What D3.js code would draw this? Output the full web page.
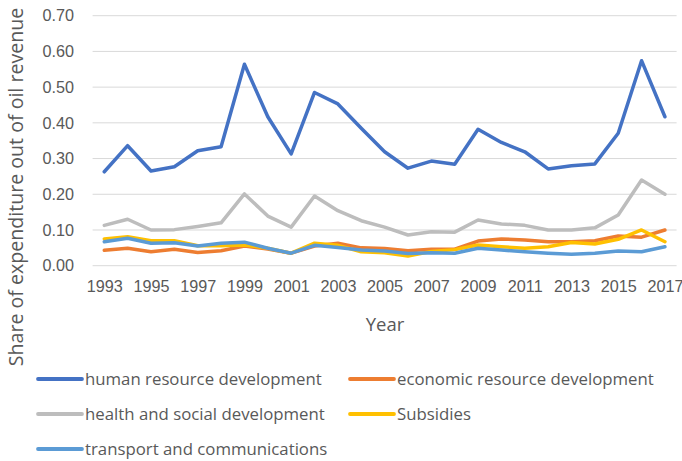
<!DOCTYPE html>
<html>
<head>
<meta charset="utf-8">
<script src="https://cdn.jsdelivr.net/npm/d3@7"></script>
<style>
  html, body { margin: 0; padding: 0; background: #fff; }
  svg { display: block; }
  text { font-family: "Open Sans", "Liberation Sans", sans-serif; fill: #595959; }
</style>
</head>
<body>
<svg id="chart" width="682" height="461"></svg>
<script>
// Years on the category axis
const years = ["1993","1994","1995","1996","1997","1998","1999","2000","2001","2002","2003","2004","2005",
               "2006","2007","2008","2009","2010","2011","2012","2013","2014","2015","2016","2017"];

// Share of expenditure out of oil revenue, by spending area
const humanResource = [0.263,0.336,0.265,0.277,0.322,0.333,0.564,0.417,0.313,0.485,0.453,0.385,0.319,
                       0.273,0.293,0.284,0.382,0.345,0.319,0.271,0.280,0.285,0.371,0.574,0.417];
const economicResource = [0.043,0.049,0.039,0.046,0.037,0.042,0.055,0.047,0.035,0.055,0.063,0.050,0.048,
                          0.042,0.046,0.046,0.069,0.075,0.072,0.067,0.067,0.070,0.083,0.080,0.100];
const healthSocial = [0.113,0.130,0.100,0.101,0.110,0.120,0.201,0.139,0.108,0.195,0.154,0.126,0.108,
                      0.086,0.095,0.094,0.128,0.117,0.113,0.100,0.100,0.106,0.142,0.240,0.200];
const subsidies = [0.075,0.081,0.070,0.070,0.056,0.056,0.058,0.049,0.035,0.063,0.057,0.039,0.036,
                   0.027,0.040,0.045,0.058,0.053,0.049,0.053,0.065,0.061,0.074,0.100,0.067];
const transport = [0.067,0.077,0.063,0.064,0.055,0.063,0.066,0.049,0.035,0.057,0.051,0.044,0.041,
                   0.034,0.036,0.035,0.049,0.044,0.039,0.035,0.032,0.035,0.041,0.039,0.053];

const seriesNames = ["human resource development","economic resource development",
                     "health and social development","Subsidies","transport and communications"];
const seriesValues = [humanResource, economicResource, healthSocial, subsidies, transport];
const seriesColors = ["#4472C4","#ED7D31","#BDBDBD","#FFC000","#5B9BD5"];

const yTicks = [0,0.1,0.2,0.3,0.4,0.5,0.6,0.7];

const svg = d3.select("#chart");
const plot = { left: 92.6, right: 676.6, top: 15.7, bottom: 265.7 };

const x = d3.scalePoint().domain(years).range([plot.left, plot.right]).padding(0.5);
const y = d3.scaleLinear().domain([0, 0.7]).range([plot.bottom, plot.top]);

// Horizontal gridlines
svg.append("g")
  .selectAll("line").data(yTicks).join("line")
  .attr("x1", plot.left).attr("x2", plot.right)
  .attr("y1", d => y(d)).attr("y2", d => y(d))
  .attr("stroke", "#D9D9D9").attr("stroke-width", 1);

// Y axis labels
const yAxis = d3.axisLeft(y).tickValues(yTicks).tickFormat(d3.format(".2f")).tickSize(0).tickPadding(0);
const yg = svg.append("g").attr("transform", `translate(74,0)`).call(yAxis);
yg.select(".domain").remove();
yg.selectAll("text").attr("font-size", 16.2).style("font-family", "inherit").attr("fill", "#595959");

// X axis labels, every other year
const xAxis = d3.axisBottom(x).tickValues(years.filter((d, i) => i % 2 === 0)).tickSize(0).tickPadding(0);
const xg = svg.append("g").attr("transform", `translate(0,${plot.bottom + 15})`).call(xAxis);
xg.select(".domain").remove();
xg.selectAll("text").attr("font-size", 16.2).style("font-family", "inherit").attr("fill", "#595959");

// Axis titles
svg.append("text").attr("x", 385).attr("y", 331).attr("text-anchor", "middle")
  .attr("font-size", 18.5).text("Year");
svg.append("text").attr("transform", "translate(23,187) rotate(-90)").attr("text-anchor", "middle")
  .attr("font-size", 19.6).text("Share of expenditure out of oil revenue");

// Series lines
const line = d3.line().x((d, i) => x(years[i])).y(d => y(d));
svg.append("g").selectAll("path").data(seriesValues).join("path")
  .attr("d", d => line(d))
  .attr("fill", "none")
  .attr("stroke", (d, i) => seriesColors[i])
  .attr("stroke-width", 3.5)
  .attr("stroke-linejoin", "round")
  .attr("stroke-linecap", "round");

// Legend
const legendPos = [[38, 379], [350, 379], [38, 414], [350, 414], [38, 449]];
const legend = svg.append("g").selectAll("g").data(seriesNames).join("g")
  .attr("transform", (d, i) => `translate(${legendPos[i][0]},${legendPos[i][1]})`);
legend.append("line").attr("x1", 0).attr("x2", 44).attr("y1", 0).attr("y2", 0)
  .attr("stroke", (d, i) => seriesColors[i]).attr("stroke-width", 3.8).attr("stroke-linecap", "round");
legend.append("text").attr("x", 47).attr("y", 0).attr("dy", "0.35em")
  .attr("font-size", 16.8).text(d => d);
</script>
</body>
</html>
